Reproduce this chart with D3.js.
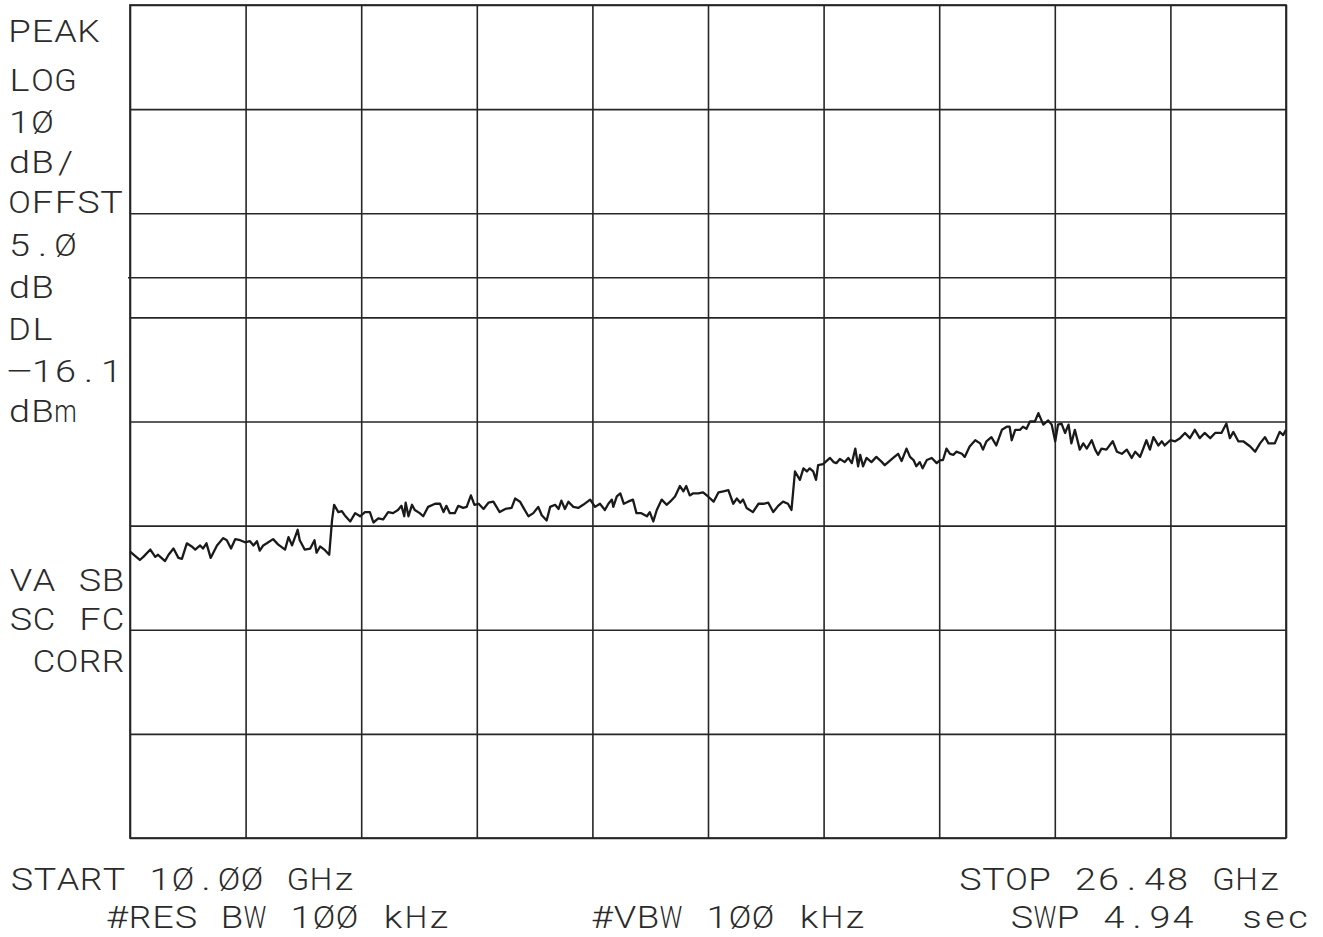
<!DOCTYPE html>
<html>
<head>
<meta charset="utf-8">
<script src="https://cdn.jsdelivr.net/npm/d3@7"></script>
<style>
html, body { margin: 0; padding: 0; background: #fff; }
svg { display: block; }
</style>
</head>
<body>
<svg id="chart" width="1323" height="937"></svg>
<script>
// analyzer settings, as printed on the plot
const startGHz = 10.00, stopGHz = 26.48;
const refLevelDbm = 10.1;          // top graticule line
const dbPerDiv = 10;
const displayLineDbm = -16.1;
const xDivs = 10, yDivs = 8;

const sideLabels = ["PEAK", "LOG", "1Ø", "dB/", "OFFST", "5.Ø", "dB", "DL", "−16.1", "dBm"];
const modeLabels = ["VA SB", "SC FC", " CORR"];
const footerTop = ["START 1Ø.ØØ GHz", "STOP 26.48 GHz"];
const footerBottom = ["#RES BW 1ØØ kHz", "#VBW 1ØØ kHz", "SWP 4.94  sec"];

// trace, [GHz, dBm], split at the band switch points
const band1 = [
  [10.00,-42.4],[10.14,-43.2],[10.19,-42.9],[10.29,-42.2],[10.36,-42.9],[10.40,-42.7],[10.50,-43.3],[10.55,-42.7],
  [10.62,-42.1],[10.69,-43.0],[10.74,-43.1],[10.81,-41.6],[10.88,-41.9],[10.93,-42.2],[11.00,-41.8],[11.04,-42.1],
  [11.09,-41.6],[11.15,-43.0],[11.24,-41.8],[11.33,-41.1],[11.38,-41.3],[11.44,-42.1],[11.50,-41.2],[11.57,-41.3],
  [11.64,-41.5],[11.71,-41.4],[11.76,-41.8],[11.81,-41.4],[11.85,-42.3],[11.90,-41.8],[11.95,-41.6],[12.04,-41.2],
  [12.11,-41.7],[12.21,-42.2],[12.26,-41.0],[12.31,-41.8],[12.39,-40.3],[12.42,-41.3],[12.49,-42.2],[12.57,-42.1],
  [12.63,-41.3],[12.66,-42.5],[12.71,-41.9],[12.77,-42.2],[12.84,-42.7]
];
const band2 = [
  [12.88,-39.4],[12.91,-37.9],[12.97,-38.6],[13.02,-38.5],[13.06,-38.9],[13.14,-39.5],[13.21,-38.7],[13.28,-39.0],
  [13.35,-38.6],[13.42,-38.6],[13.47,-39.6],[13.54,-39.2],[13.61,-39.3],[13.68,-38.6],[13.75,-38.7],[13.82,-38.4],
  [13.87,-38.0],[13.91,-39.0],[13.93,-37.7],[13.97,-39.0],[14.02,-37.9],[14.06,-38.4],[14.13,-38.7],[14.18,-39.0],
  [14.25,-38.1],[14.35,-37.8],[14.42,-37.8],[14.47,-38.6],[14.51,-38.0],[14.56,-38.7],[14.63,-38.7],[14.68,-38.0],
  [14.75,-38.2],[14.80,-38.1],[14.86,-37.0],[14.91,-37.9],[14.97,-37.8],[15.04,-38.3],[15.11,-37.7],[15.18,-37.6],
  [15.27,-38.6],[15.35,-38.3],[15.44,-38.2],[15.49,-37.3],[15.56,-37.6],[15.61,-38.2],[15.68,-39.0],[15.75,-38.7],
  [15.82,-38.1],[15.87,-38.9],[15.94,-39.4],[15.99,-38.1],[16.06,-37.9],[16.11,-38.3],[16.15,-37.5],[16.20,-38.3],
  [16.25,-37.6],[16.32,-38.1],[16.39,-38.2],[16.46,-37.9],[16.56,-37.4],[16.63,-38.1],[16.70,-37.8],[16.77,-38.4],
  [16.82,-37.8],[16.87,-37.4],[16.89,-38.1],[16.94,-37.1],[16.99,-36.8],[17.04,-37.8],[17.10,-37.6],[17.17,-37.4],
  [17.22,-38.7],[17.29,-38.7],[17.37,-39.0],[17.41,-38.6],[17.46,-39.5],[17.51,-38.4],[17.58,-37.4],[17.65,-37.9],
  [17.70,-37.6],[17.77,-37.1],[17.84,-36.1],[17.89,-36.6],[17.93,-36.1],[17.98,-37.0],[18.03,-36.8],[18.10,-36.8],
  [18.17,-36.7],[18.24,-37.1],[18.32,-37.6],[18.39,-36.7],[18.46,-36.6],[18.53,-36.5],[18.60,-37.8],[18.65,-37.3],
  [18.70,-37.7],[18.74,-37.4],[18.79,-38.2],[18.88,-38.6],[18.96,-37.8],[19.03,-37.8],[19.10,-37.7],[19.17,-38.6],
  [19.24,-38.0],[19.31,-37.6],[19.38,-37.8],[19.43,-38.4]
];
const band3 = [
  [19.48,-34.7],[19.55,-35.5],[19.60,-34.4],[19.65,-34.7],[19.69,-34.4],[19.74,-34.7],[19.78,-35.5],[19.81,-34.1],
  [19.88,-34.0],[19.98,-33.4],[20.03,-33.8],[20.07,-33.9],[20.12,-33.5],[20.19,-33.8],[20.24,-33.4],[20.29,-33.9],
  [20.34,-32.5],[20.38,-34.2],[20.41,-33.1],[20.45,-34.2],[20.50,-33.4],[20.57,-33.8],[20.64,-33.3],[20.72,-33.8],
  [20.76,-34.1],[20.81,-33.8],[20.88,-33.4],[20.95,-33.0],[21.00,-33.7],[21.07,-32.5],[21.12,-33.3],[21.17,-33.6],
  [21.21,-34.2],[21.26,-33.8],[21.30,-34.4],[21.36,-33.6],[21.43,-33.4],[21.50,-33.9],[21.55,-33.6],[21.59,-33.6],
  [21.64,-32.5],[21.69,-33.0],[21.74,-33.1],[21.78,-32.8],[21.86,-33.0],[21.90,-33.3],[21.97,-32.3],[22.05,-31.7],
  [22.12,-32.0],[22.16,-32.6],[22.21,-31.8],[22.28,-31.4],[22.35,-32.2],[22.43,-30.7],[22.50,-30.4],[22.54,-30.4],
  [22.57,-31.7],[22.62,-30.7],[22.69,-30.7],[22.73,-30.4],[22.78,-30.6],[22.83,-29.9],[22.90,-29.9],[22.95,-29.1],
  [23.02,-30.2],[23.09,-29.8],[23.14,-30.2],[23.19,-31.8],[23.23,-30.2],[23.28,-30.1],[23.33,-31.0],[23.38,-30.2],
  [23.42,-32.0],[23.47,-30.7],[23.54,-32.6],[23.59,-32.0],[23.64,-32.5],[23.71,-31.7],[23.76,-32.6],[23.80,-33.1],
  [23.85,-32.5],[23.92,-32.6],[24.01,-31.8],[24.07,-32.8],[24.14,-33.0],[24.21,-32.6],[24.28,-33.4],[24.33,-32.8],
  [24.40,-33.3],[24.49,-31.7],[24.54,-32.6],[24.59,-31.4],[24.66,-32.2],[24.71,-31.8],[24.75,-32.2],[24.83,-31.7],
  [24.90,-31.8],[24.97,-31.5],[25.04,-31.0],[25.11,-31.5],[25.18,-30.7],[25.25,-31.5],[25.32,-31.0],[25.40,-31.5],
  [25.47,-31.0],[25.56,-31.0],[25.63,-30.1],[25.68,-31.5],[25.73,-30.9],[25.80,-31.8],[25.87,-31.8],[25.97,-32.3],
  [26.04,-32.8],[26.11,-32.0],[26.18,-31.4],[26.23,-32.0],[26.32,-32.0],[26.39,-30.9],[26.44,-31.2],[26.48,-30.7]
];

const trace = band1.concat(band2, band3);

// layout
const plot = { left: 130, top: 5, right: 1286, bottom: 838 };
const ink = "#262626";
const pitch = 23.0, fontSize = 31, widen = 1.22, maxAdvance = 22.5;

const svg = d3.select("#chart");

const x = d3.scaleLinear().domain([startGHz, stopGHz]).range([plot.left, plot.right]);
const y = d3.scaleLinear()
    .domain([refLevelDbm - yDivs * dbPerDiv, refLevelDbm])
    .range([plot.bottom, plot.top]);

const xTicks = d3.range(xDivs + 1).map(i => startGHz + i * (stopGHz - startGHz) / xDivs);
const yTicks = d3.range(yDivs + 1).map(i => refLevelDbm - i * dbPerDiv);

// graticule
const gx = svg.append("g")
    .attr("transform", `translate(0,${plot.bottom})`)
    .call(d3.axisBottom(x).tickValues(xTicks).tickSize(-(plot.bottom - plot.top)).tickFormat(""));
const gy = svg.append("g")
    .attr("transform", `translate(${plot.left},0)`)
    .call(d3.axisLeft(y).tickValues(yTicks).tickSize(-(plot.right - plot.left)).tickFormat(""));
[gx, gy].forEach(g => {
  g.select(".domain").remove();
  g.selectAll(".tick line").attr("stroke", ink).attr("stroke-width", 1.6);
});

svg.append("rect")
    .attr("x", plot.left).attr("y", plot.top)
    .attr("width", plot.right - plot.left).attr("height", plot.bottom - plot.top)
    .attr("fill", "none").attr("stroke", ink).attr("stroke-width", 1.7);

// display line
svg.append("line")
    .attr("x1", plot.left - 2).attr("x2", plot.right)
    .attr("y1", y(displayLineDbm)).attr("y2", y(displayLineDbm))
    .attr("stroke", ink).attr("stroke-width", 1.6);

// trace
const line = d3.line().x(d => x(d[0])).y(d => y(d[1]));
svg.append("path")
    .datum(trace)
    .attr("d", line)
    .attr("fill", "none")
    .attr("stroke", "#1a1a1a")
    .attr("stroke-width", 2.3)
    .attr("stroke-linejoin", "round");

// annotation text: one glyph per character cell, like the plotter does it
const textLayer = svg.append("g")
    .attr("font-family", "Roboto, 'DejaVu Sans', sans-serif")
    .attr("font-weight", 300)
    .attr("font-size", fontSize)
    .attr("fill", "#2b2b2b")
    .attr("text-anchor", "middle");

function put(str, cx0, baseline) {
  const cells = Array.from(str).map((c, i) => ({ c, i })).filter(d => d.c !== " ");
  textLayer.append("g")
    .selectAll("text")
    .data(cells)
    .join("text")
      .text(d => d.c)
      .attr("transform", function (d) {
        const w = this.getComputedTextLength() || 1;
        // wide glyphs (W, m) are squeezed into their cell, the minus is drawn long
        const sx = d.c === "−" ? 1.7 : Math.min(widen, maxAdvance / w);
        return `translate(${cx0 + d.i * pitch},${baseline}) scale(${sx},1)`;
      });
}

const sideBase = [42, 91, 133, 173, 213, 256, 298, 340, 382, 422];
sideLabels.forEach((s, i) => put(s, 19.5, sideBase[i]));
const modeBase = [591, 630, 672];
modeLabels.forEach((s, i) => put(s, 21, modeBase[i]));

put(footerTop[0], 22, 890);
put(footerTop[1], 970.5, 890);
put(footerBottom[0], 117, 928);
put(footerBottom[1], 602, 928);
put(footerBottom[2], 1022, 928);
</script>
</body>
</html>
